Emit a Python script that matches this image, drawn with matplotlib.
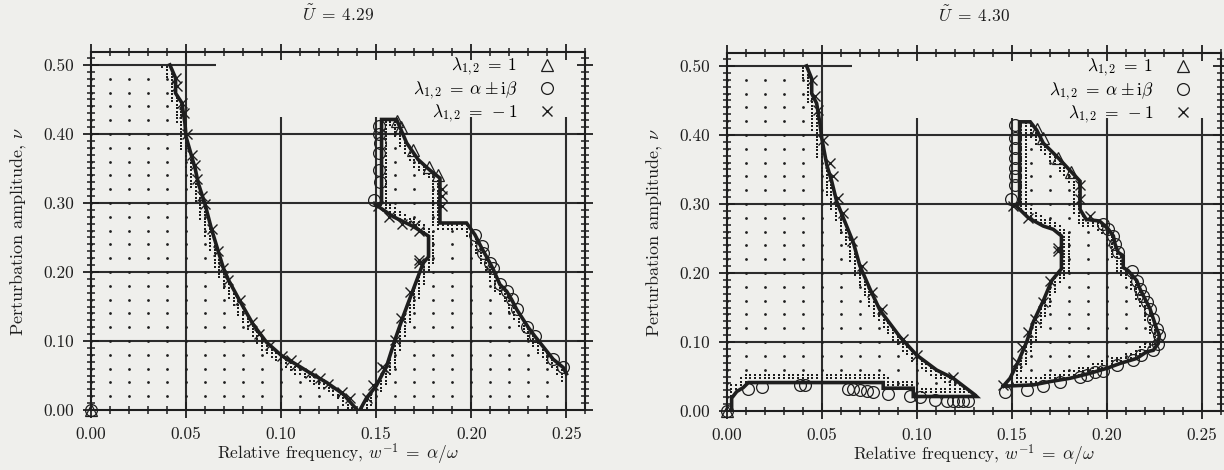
import numpy as np
import matplotlib.pyplot as plt
from matplotlib.path import Path
from matplotlib.lines import Line2D
from matplotlib.ticker import MultipleLocator, FormatStrFormatter

plt.rcParams['font.family'] = 'serif'
plt.rcParams['font.serif'] = ['cmr10']
plt.rcParams['mathtext.fontset'] = 'cm'
plt.rcParams['axes.formatter.use_mathtext'] = True
plt.rcParams['axes.unicode_minus'] = False

# ------------------------------------------------------------------
# U = 4.29  (left panel)
# ------------------------------------------------------------------
# left boundary curve, from the top (nu = 0.5) down to nu = 0
l_a_x = [0.0415, 0.0445, 0.0445, 0.0478, 0.0494, 0.0500, 0.0529, 0.0547, 0.0564, 0.0600,
         0.0634, 0.0696, 0.0722, 0.0783, 0.0853, 0.0924, 0.1002, 0.1080, 0.1151, 0.1239,
         0.1327, 0.1400]
l_a_y = [0.500, 0.481, 0.459, 0.445, 0.416, 0.396, 0.368, 0.351, 0.329, 0.298,
         0.262, 0.206, 0.189, 0.158, 0.124, 0.098, 0.079, 0.066, 0.054, 0.040,
         0.023, 0.000]
# right island boundary, going up from nu = 0, round the top and down the right side
l_b_x = [0.1414, 0.1450, 0.1500, 0.1555, 0.1600, 0.1642, 0.1695, 0.1747, 0.1775, 0.1775,
         0.1695, 0.1590, 0.1500, 0.1528, 0.1528, 0.1607, 0.1660, 0.1720, 0.1780, 0.1835,
         0.1835, 0.1975, 0.2019, 0.2054, 0.2098, 0.2115, 0.2150, 0.2186, 0.2212, 0.2238,
         0.2300, 0.2334, 0.2430, 0.2483, 0.2500]
l_b_y = [0.000, 0.018, 0.035, 0.064, 0.103, 0.136, 0.175, 0.213, 0.222, 0.252,
         0.266, 0.280, 0.297, 0.300, 0.421, 0.421, 0.387, 0.363, 0.348, 0.336,
         0.271, 0.271, 0.254, 0.235, 0.213, 0.204, 0.182, 0.172, 0.160, 0.146,
         0.1195, 0.107, 0.0737, 0.0617, 0.0525]
# markers
l_cross_x = [0.0447, 0.0450, 0.0480, 0.0490, 0.0505, 0.0530, 0.0545, 0.0560, 0.0585, 0.0600,
             0.0635, 0.0670, 0.0696, 0.0722, 0.0783, 0.0845, 0.0885, 0.0941, 0.1002, 0.1050,
             0.1080, 0.1151, 0.1205, 0.1248, 0.1318, 0.1360, 0.1450, 0.1484, 0.1528, 0.1545,
             0.1600, 0.1630, 0.1680, 0.1726, 0.1726, 0.1726, 0.1704, 0.1638, 0.1568, 0.1507,
             0.1844, 0.1844, 0.1844]
l_cross_y = [0.481, 0.470, 0.445, 0.430, 0.400, 0.370, 0.355, 0.335, 0.310, 0.298,
             0.262, 0.230, 0.206, 0.189, 0.160, 0.127, 0.110, 0.094, 0.079, 0.072,
             0.066, 0.054, 0.047, 0.038, 0.026, 0.017, 0.018, 0.036, 0.063, 0.059,
             0.102, 0.134, 0.171, 0.213, 0.218, 0.260, 0.268, 0.270, 0.280, 0.295,
             0.320, 0.310, 0.296]
l_circ_x = [0.0000, 0.1515, 0.1515, 0.1520, 0.1515, 0.1515, 0.1520, 0.1488,
            0.2019, 0.2054, 0.2063, 0.2098, 0.2115, 0.2150, 0.2186, 0.2212, 0.2238,
            0.2291, 0.2334, 0.2431, 0.2483]
l_circ_y = [0.000, 0.411, 0.400, 0.387, 0.372, 0.348, 0.330, 0.305,
            0.2543, 0.2374, 0.2278, 0.2134, 0.2062, 0.182, 0.1724, 0.1604, 0.146,
            0.121, 0.1074, 0.0737, 0.0617]
l_tri_x = [0.0000, 0.1607, 0.1630, 0.1695, 0.1780, 0.1826]
l_tri_y = [0.000, 0.419, 0.410, 0.377, 0.352, 0.340]

# ------------------------------------------------------------------
# U = 4.30  (right panel)
# ------------------------------------------------------------------
r_a_x = [0.0420, 0.0447, 0.0447, 0.0473, 0.0490, 0.0500, 0.0526, 0.0552, 0.0578, 0.0613,
         0.0666, 0.0700, 0.0753, 0.0806, 0.0911, 0.0999, 0.1104, 0.1191, 0.1305, 0.1314,
         0.0981, 0.0981, 0.0823, 0.0823, 0.0114, 0.0087, 0.0053, 0.0026, 0.0026]
r_a_y = [0.500, 0.4815, 0.460, 0.4456, 0.417, 0.395, 0.357, 0.333, 0.304, 0.280,
         0.244, 0.2105, 0.177, 0.146, 0.1075, 0.081, 0.0594, 0.0475, 0.0235, 0.0211,
         0.0211, 0.0331, 0.0331, 0.0413, 0.0413, 0.034, 0.0283, 0.0187, 0.000]
r_b_x = [0.1454, 0.1490, 0.1533, 0.1577, 0.1612, 0.1665, 0.1709, 0.1760, 0.1760, 0.1717,
         0.1665, 0.1586, 0.1515, 0.1540, 0.1540, 0.1596, 0.1630, 0.1665, 0.1744, 0.1858,
         0.1858, 0.1890, 0.1960, 0.1980, 0.2007, 0.2033, 0.2042, 0.2059, 0.2085, 0.2085,
         0.2111, 0.2156, 0.2173, 0.2190, 0.2208, 0.2226, 0.2243, 0.2261, 0.2275, 0.2269,
         0.2243, 0.2208, 0.2156, 0.2068, 0.1998, 0.1910, 0.1805, 0.1700, 0.1612, 0.1454]
r_b_y = [0.036, 0.0475, 0.0715, 0.100, 0.129, 0.160, 0.189, 0.206, 0.2537, 0.2633,
         0.268, 0.280, 0.299, 0.300, 0.419, 0.419, 0.407, 0.388, 0.3665, 0.333,
         0.292, 0.2777, 0.2753, 0.2705, 0.2633, 0.2537, 0.2417, 0.2297, 0.225, 0.208,
         0.2033, 0.189, 0.177, 0.1674, 0.158, 0.148, 0.1338, 0.119, 0.1098, 0.0978,
         0.088, 0.0859, 0.0763, 0.069, 0.0619, 0.0547, 0.0475, 0.0427, 0.0379, 0.036]
r_cross_x = [0.0447, 0.0465, 0.0482, 0.0508, 0.0543, 0.0560, 0.0587, 0.0613, 0.0657, 0.0710,
             0.0762, 0.0815, 0.0929, 0.0999, 0.1191, 0.1454, 0.1525, 0.1551, 0.1586, 0.1621,
             0.1665, 0.1700, 0.1744, 0.1744, 0.1586, 0.1507, 0.1858, 0.1858, 0.1910]
r_cross_y = [0.479, 0.456, 0.436, 0.393, 0.359, 0.340, 0.309, 0.287, 0.2465, 0.2105,
             0.1722, 0.148, 0.105, 0.081, 0.050, 0.0379, 0.0715, 0.0931, 0.1146, 0.1338,
             0.158, 0.189, 0.2321, 0.236, 0.280, 0.2969, 0.328, 0.3065, 0.2825]
r_circ_x = [0.0000, 0.0114, 0.0184, 0.0385, 0.0412, 0.0639, 0.0666, 0.0700, 0.0736, 0.0771,
            0.0850, 0.0964, 0.1016, 0.1095, 0.1157, 0.1192, 0.1218, 0.1245, 0.1271,
            0.1516, 0.1516, 0.1516, 0.1516, 0.1516, 0.1516, 0.1516, 0.1495,
            0.1980, 0.2006, 0.2033, 0.2042, 0.2059, 0.2129, 0.2156, 0.2173, 0.2190, 0.2208,
            0.2226, 0.2243, 0.2261, 0.2275, 0.2269, 0.2243,
            0.2180, 0.2138, 0.2050, 0.1980, 0.1936, 0.1893, 0.1858, 0.1752, 0.1665, 0.1577,
            0.1463]
r_circ_y = [0.000, 0.0317, 0.0345, 0.0379, 0.0379, 0.0317, 0.0317, 0.0307, 0.0293, 0.0283,
            0.0249, 0.0211, 0.0197, 0.0163, 0.0149, 0.0149, 0.0149, 0.0149, 0.0149,
            0.414, 0.395, 0.381, 0.3665, 0.352, 0.340, 0.328, 0.3065,
            0.2705, 0.2633, 0.2537, 0.2417, 0.2297, 0.2033, 0.189, 0.177, 0.1674, 0.158,
            0.148, 0.1338, 0.119, 0.1098, 0.0978, 0.088,
            0.081, 0.0739, 0.0667, 0.0581, 0.0561, 0.0523, 0.050, 0.0427, 0.0365, 0.0307,
            0.0283]
r_tri_x = [0.0000, 0.1630, 0.1665, 0.1744, 0.1810]
r_tri_y = [0.000, 0.409, 0.395, 0.3665, 0.347]

# computed lattice (coarse + refined near the stability boundary)
lat_x = np.arange(0.0, 0.2501, 0.01)
lat_y = np.arange(0.02, 0.4801, 0.02)
fine_x = np.arange(0.0, 0.2501, 0.0025)
fine_y = np.arange(0.0025, 0.4976, 0.005)

ink = '#1e1e1e'
paper = '#efefec'


def dist_to_curve(px, py, cx, cy):
    # distance in (approx.) screen pixels, x and y scaled like the figure
    s = np.array([1902.0, 692.0])
    p = np.c_[px, py] * s
    a = np.c_[cx[:-1], cy[:-1]] * s
    b = np.c_[cx[1:], cy[1:]] * s
    ab = b - a
    den = np.maximum((ab ** 2).sum(1), 1e-9)
    t = (((p[:, None, :] - a[None]) * ab[None]).sum(-1) / den).clip(0, 1)
    proj = a[None] + t[..., None] * ab[None]
    return np.linalg.norm(p[:, None, :] - proj, axis=-1).min(1)


def draw_panel(ax, title, curves, regions, cross, circ, tri):
    ax.set_facecolor(paper)
    ax.set_xlim(0, 0.26)
    ax.set_ylim(0, 0.518)

    # stable points
    gx, gy = np.meshgrid(lat_x, lat_y)
    pts = np.c_[gx.ravel(), gy.ravel()]
    fx, fy = np.meshgrid(fine_x, fine_y)
    fpts = np.c_[fx.ravel(), fy.ravel()]
    inside = np.zeros(len(pts), bool)
    finside = np.zeros(len(fpts), bool)
    for rx, ry in regions:
        path = Path(np.c_[rx, ry])
        inside |= path.contains_points(pts)
        finside |= path.contains_points(fpts)
    near = np.full(len(fpts), np.inf)
    for cx, cy in curves:
        near = np.minimum(near, dist_to_curve(fpts[:, 0], fpts[:, 1], np.array(cx), np.array(cy)))
    band = finside & (near < 8.5)
    ax.plot(pts[inside, 0], pts[inside, 1], 'o', ms=2.0, color=ink, mew=0, zorder=2)
    ax.plot(fpts[band, 0], fpts[band, 1], 's', ms=1.5, color=ink, mew=0, zorder=2)

    # grid (partly hidden behind the key, as in the original)
    gkw = dict(color='#2c2c2c', lw=1.5, zorder=1.5)
    ax.hlines([0.1, 0.2, 0.3, 0.4], 0, 0.26, **gkw)
    ax.hlines(0.5, 0, 0.066, **gkw)
    ax.vlines(0.05, 0, 0.518, **gkw)
    ax.vlines([0.10, 0.15, 0.20, 0.25], 0, 0.424, **gkw)

    for cx, cy in curves:
        ax.plot(cx, cy, '-', color=ink, lw=2.6, zorder=3, solid_joinstyle='miter')

    ax.plot(cross[0], cross[1], 'x', ms=7.5, mew=1.0, color=ink, zorder=4, clip_on=False)
    ax.plot(circ[0], circ[1], 'o', ms=8.5, mew=0.9, mfc='none', mec=ink, zorder=4, clip_on=False)
    ax.plot(tri[0], tri[1], '^', ms=8.5, mew=0.9, mfc='none', mec=ink, zorder=4, clip_on=False)

    ax.xaxis.set_major_locator(MultipleLocator(0.05))
    ax.xaxis.set_minor_locator(MultipleLocator(0.01))
    ax.yaxis.set_major_locator(MultipleLocator(0.1))
    ax.yaxis.set_minor_locator(MultipleLocator(0.01))
    ax.xaxis.set_major_formatter(FormatStrFormatter('%.2f'))
    ax.yaxis.set_major_formatter(FormatStrFormatter('%.2f'))
    ax.tick_params(which='both', top=True, right=True, direction='inout',
                   colors=ink, labelsize=12.5)
    ax.tick_params(which='major', length=12, width=1.3)
    ax.tick_params(which='minor', length=6, width=1.1)
    ax.tick_params(axis='x', pad=6)
    ax.tick_params(axis='y', pad=6)
    for sp in ax.spines.values():
        sp.set_linewidth(1.5)
        sp.set_color(ink)

    ax.set_title(title, fontsize=12.5, pad=23, color=ink)
    ax.set_xlabel(r'Relative frequency, $w^{-1} \;=\; \alpha/\omega$', fontsize=12.5, labelpad=0, color=ink)
    ax.set_ylabel(r'Perturbation amplitude, $\nu$', fontsize=13, labelpad=11, color=ink)

    handles = [Line2D([], [], ls='none', marker='^', ms=8.5, mew=0.9, mfc='none', mec=ink),
               Line2D([], [], ls='none', marker='o', ms=8.5, mew=0.9, mfc='none', mec=ink),
               Line2D([], [], ls='none', marker='x', ms=7.5, mew=1.0, color=ink)]
    labels = [r'$\lambda_{1,2} \;=\; 1$', r'$\lambda_{1,2} \;=\; \alpha \pm \mathrm{i}\beta$',
              r'$\lambda_{1,2} \;=\; -1$']
    ax.legend(handles, labels, loc='upper right', bbox_to_anchor=(0.94, 0.99),
              markerfirst=False, frameon=False, handlelength=1.0, handletextpad=1.2,
              labelspacing=0.05, borderpad=0, borderaxespad=0, fontsize=12.5)


fig = plt.figure(figsize=(12.24, 4.70), dpi=100, facecolor=paper)
ax1 = fig.add_axes([0.0743, 0.1275, 0.404, 0.7608])
ax2 = fig.add_axes([0.5937, 0.1254, 0.404, 0.7608])

# stable regions: left of the first curve, and inside the right island
l_reg1 = ([-0.001] + l_a_x + [-0.001], [0.5] + l_a_y + [-0.001])
l_reg2 = (l_b_x + [0.2495, 0.2495, 0.1414], l_b_y + [0.0525, -0.001, -0.001])
r_reg1 = ([-0.001] + r_a_x + [-0.001], [0.5] + r_a_y + [-0.001])
r_reg2 = (r_b_x, r_b_y)

draw_panel(ax1, r'$\tilde{U} \;=\; 4.29$', [(l_a_x, l_a_y), (l_b_x, l_b_y)], [l_reg1, l_reg2],
           (l_cross_x, l_cross_y), (l_circ_x, l_circ_y), (l_tri_x, l_tri_y))
draw_panel(ax2, r'$\tilde{U} \;=\; 4.30$', [(r_a_x, r_a_y), (r_b_x, r_b_y)], [r_reg1, r_reg2],
           (r_cross_x, r_cross_y), (r_circ_x, r_circ_y), (r_tri_x, r_tri_y))

fig.savefig('out.png', dpi=100, facecolor=paper)
